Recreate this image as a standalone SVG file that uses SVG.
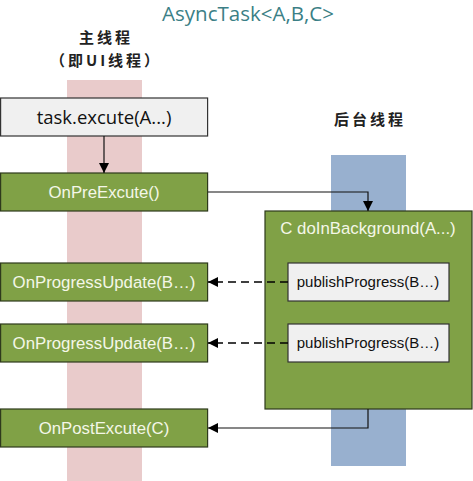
<svg xmlns="http://www.w3.org/2000/svg" width="473" height="481" viewBox="0 0 473 481">
<defs>
<style>
.green{fill:#80a146;stroke:#2e3a1c;stroke-width:1.2}
.grey{fill:#f0f0f0;stroke:#333;stroke-width:1.2}
.wt{font-family:"Liberation Sans",Arial,sans-serif;font-size:16.8px;fill:#f4f7e8;text-anchor:middle}
.bt{font-family:"Liberation Sans",Arial,sans-serif;font-size:15px;fill:#111;text-anchor:middle}
.cn{font-family:"Noto Sans CJK SC",sans-serif;font-size:15px;font-weight:bold;fill:#222;text-anchor:middle;letter-spacing:3px}
.ln{fill:none;stroke:#111;stroke-width:1.2}
.dash{stroke-dasharray:8,5;stroke:#000;stroke-width:1.5}
</style>
<marker id="ah" viewBox="0 0 10 10" refX="10" refY="5" markerWidth="10" markerHeight="10" markerUnits="userSpaceOnUse" orient="auto">
<path d="M0,0 L10,5 L0,10 z" fill="#000"/>
</marker>
</defs>
<rect width="473" height="481" fill="#fff"/>
<text x="248" y="21" font-family="'Open Sans',sans-serif" font-size="20.5" fill="#3b7f86" text-anchor="middle">AsyncTask&lt;A,B,C&gt;</text>
<text class="cn" x="106" y="43">主线程</text>
<text class="cn" x="106" y="66">（即UI线程）</text>
<text class="cn" x="370" y="125">后台线程</text>
<rect id="main-band" x="67" y="80" width="75" height="401" fill="#e9cbcb"/>
<rect id="bg-band" x="331" y="155" width="75" height="311" fill="#98b0cf"/>
<g id="task"><rect class="grey" x="0.6" y="98" width="207" height="38"/><text x="104" y="124" font-family="'Open Sans',sans-serif" font-size="18.5" fill="#111" text-anchor="middle">task.excute(A...)</text></g>
<g id="pre"><rect class="green" x="0.6" y="173" width="207" height="38"/><text class="wt" x="104" y="198">OnPreExcute()</text></g>
<g id="bg"><rect class="green" x="265" y="211" width="207" height="198"/><text class="wt" x="368" y="234">C doInBackground(A...)</text></g>
<g id="pub1"><rect class="grey" x="288" y="263" width="161" height="38"/><text class="bt" x="368" y="287">publishProgress(B…)</text></g>
<g id="pub2"><rect class="grey" x="288" y="324" width="161" height="38"/><text class="bt" x="368" y="348">publishProgress(B…)</text></g>
<g id="upd1"><rect class="green" x="0.6" y="263" width="207" height="38"/><text class="wt" x="104" y="288">OnProgressUpdate(B…)</text></g>
<g id="upd2"><rect class="green" x="0.6" y="324" width="207" height="38"/><text class="wt" x="104" y="349">OnProgressUpdate(B…)</text></g>
<g id="post"><rect class="green" x="0.6" y="409" width="207" height="38"/><text class="wt" x="104" y="434">OnPostExcute(C)</text></g>
<g id="connectors">
<path class="ln" d="M104,136 V173" marker-end="url(#ah)"/>
<path class="ln" d="M208,192 H368 V211" marker-end="url(#ah)"/>
<path class="ln dash" d="M288,282 H208" marker-end="url(#ah)"/>
<path class="ln dash" d="M288,343 H208" marker-end="url(#ah)"/>
<path class="ln" d="M368,409 V428 H208" marker-end="url(#ah)"/>
</g>
</svg>
